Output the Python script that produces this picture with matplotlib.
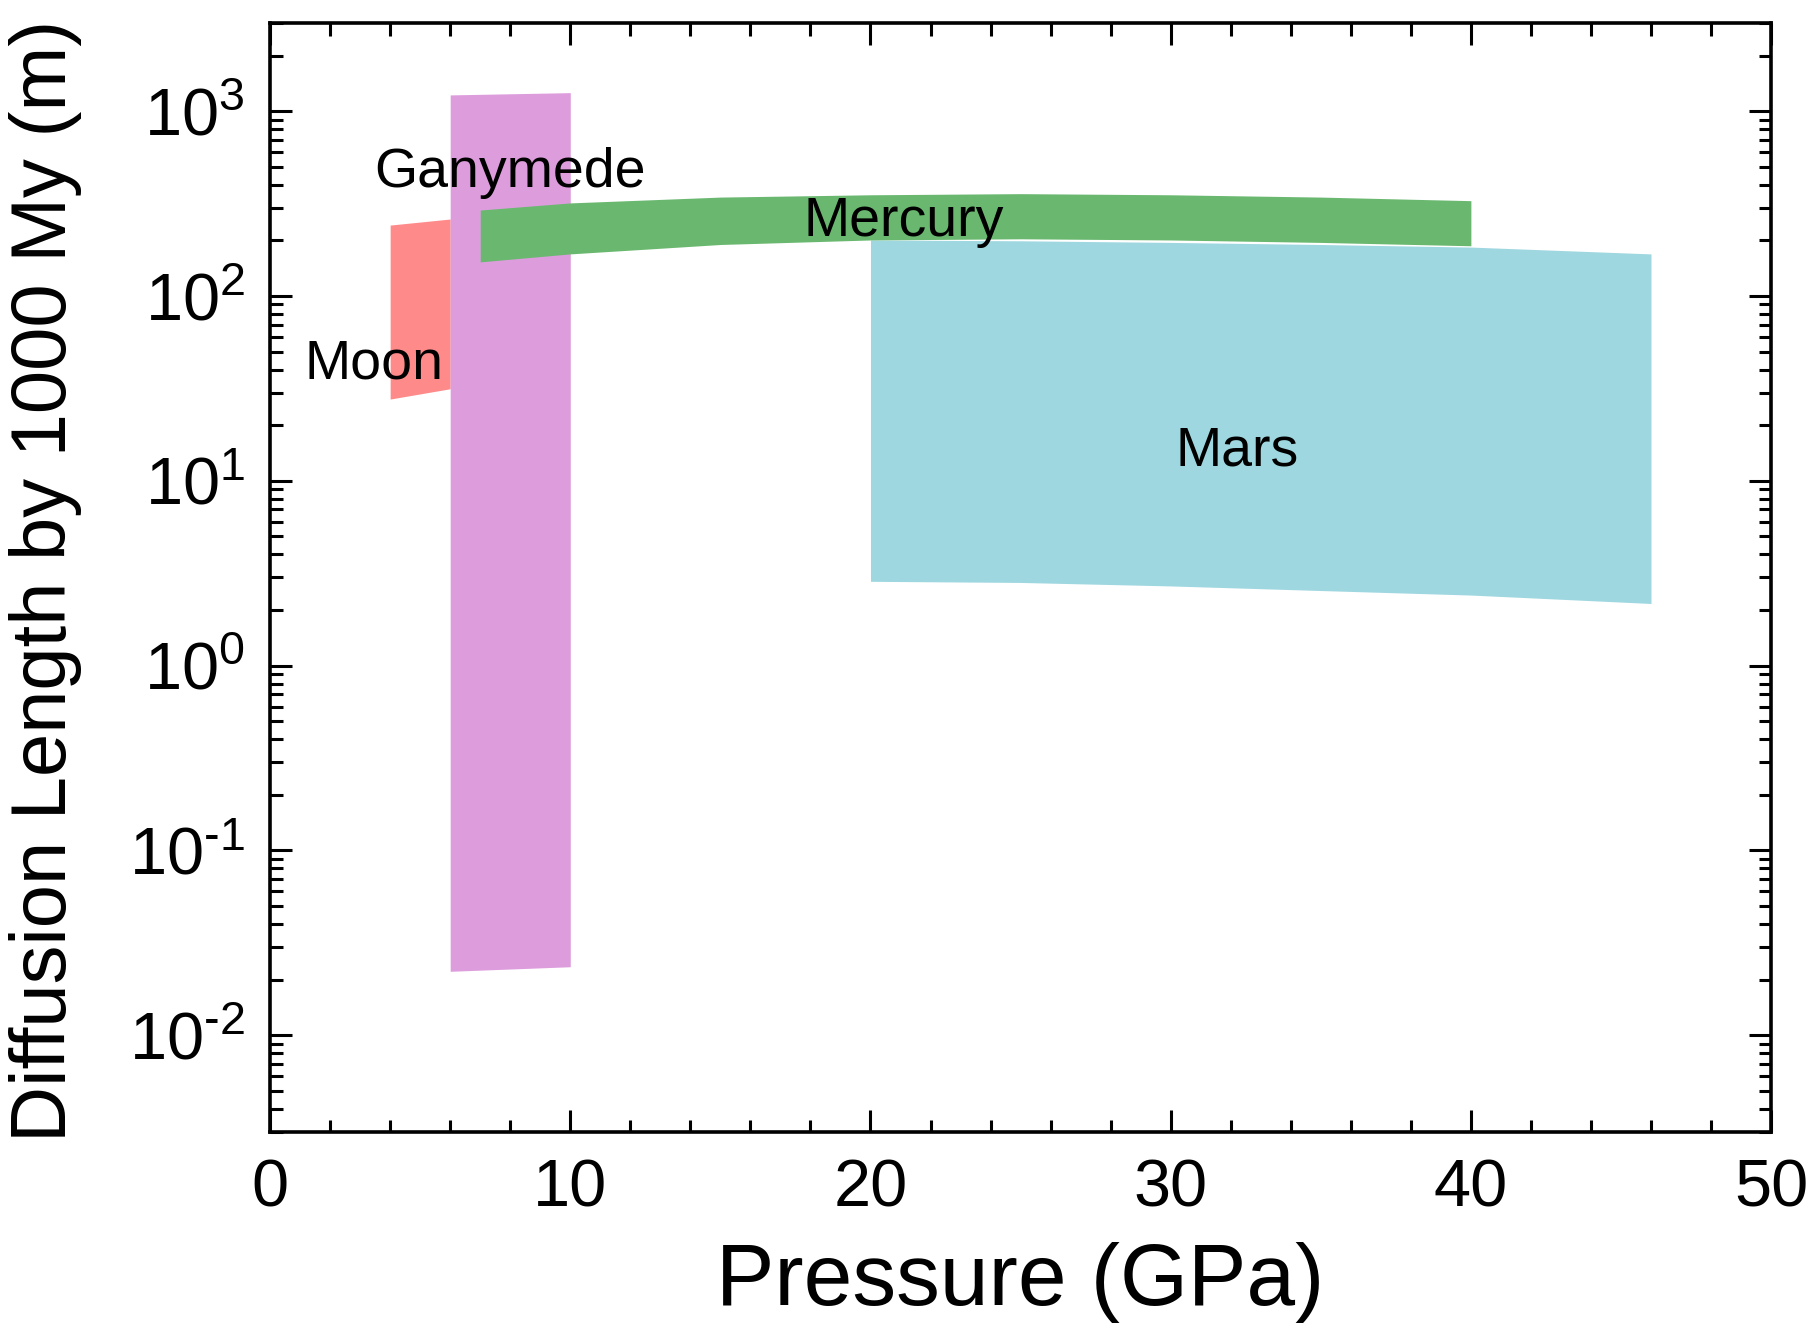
import numpy as np
import matplotlib
matplotlib.use("Agg")
import matplotlib.pyplot as plt
from matplotlib.ticker import FuncFormatter, LogLocator, MultipleLocator

plt.rcParams["font.family"] = ["Liberation Sans", "DejaVu Sans"]
plt.rcParams["mathtext.fontset"] = "custom"
plt.rcParams["mathtext.rm"] = "Liberation Sans"
plt.rcParams["mathtext.it"] = "Liberation Sans:italic"

# Moon band
moon_x = [4, 6]
moon_top = [242, 261]
moon_bot = [27.7, 31.5]

# Ganymede band
gany_x = [6, 10]
gany_top = [1225, 1260]
gany_bot = [0.0222, 0.0235]

# Mercury band
merc_x = [7, 10, 15, 20, 25, 30, 35, 40]
merc_top = [292, 319, 343, 353, 358, 353, 343, 328]
merc_bot = [153, 169, 190, 201, 204, 201, 195, 187]

# Mars band
mars_x = [20, 25, 30, 35, 40, 46]
mars_top = [201, 199, 195, 190, 184, 169]
mars_bot = [2.86, 2.82, 2.70, 2.55, 2.41, 2.17]

labels = ["Moon", "Ganymede", "Mercury", "Mars"]
label_x = [3.45, 8.0, 21.1, 32.2]
label_y = [42.6, 463, 252, 14.5]


def exp_label(v, pos):
    e = int(round(np.log10(v)))
    s = str(e).replace("-", "\u2010")
    return r"$\mathregular{10^{%s}}$" % s


fig = plt.figure(figsize=(18.15, 13.3), dpi=100)
ax = fig.add_axes([0.1488, 0.1489, 0.827, 0.8338])

ax.fill_between(mars_x, mars_bot, mars_top, color="#9fd7e0", lw=0)
ax.fill_between(moon_x, moon_bot, moon_top, color="#ff8a8a", lw=0)
ax.fill_between(gany_x, gany_bot, gany_top, color="#dd9ddd", lw=0)
ax.fill_between(merc_x, merc_bot, merc_top, color="#6ab870", lw=0)

for name, lx, ly in zip(labels, label_x, label_y):
    ax.text(lx, ly, name, fontsize=40, ha="center", va="center")

ax.set_yscale("log")
ax.set_xlim(0, 50)
ax.set_ylim(0.003, 3000)

ax.xaxis.set_major_locator(MultipleLocator(10))
ax.xaxis.set_minor_locator(MultipleLocator(2))
ax.yaxis.set_major_locator(LogLocator(base=10, numticks=20))
ax.yaxis.set_minor_locator(LogLocator(base=10, subs=np.arange(2, 10), numticks=20))
ax.yaxis.set_major_formatter(FuncFormatter(exp_label))

ax.tick_params(which="both", direction="in", top=True, right=True, width=2.2,
               labelsize=48)
ax.tick_params(axis="x", which="major", pad=19)
ax.tick_params(axis="y", which="major", pad=18)
ax.tick_params(which="major", length=16)
ax.tick_params(which="minor", length=9)
for s in ax.spines.values():
    s.set_linewidth(2.6)

ax.set_xlabel("Pressure (GPa)", fontsize=63)
ax.set_ylabel("Diffusion Length by 1000 My (m)", fontsize=56)
ax.xaxis.set_label_coords(0.5, -0.099)
ax.yaxis.set_label_coords(-0.125, 0.497)

fig.savefig("out.png", dpi=100)
